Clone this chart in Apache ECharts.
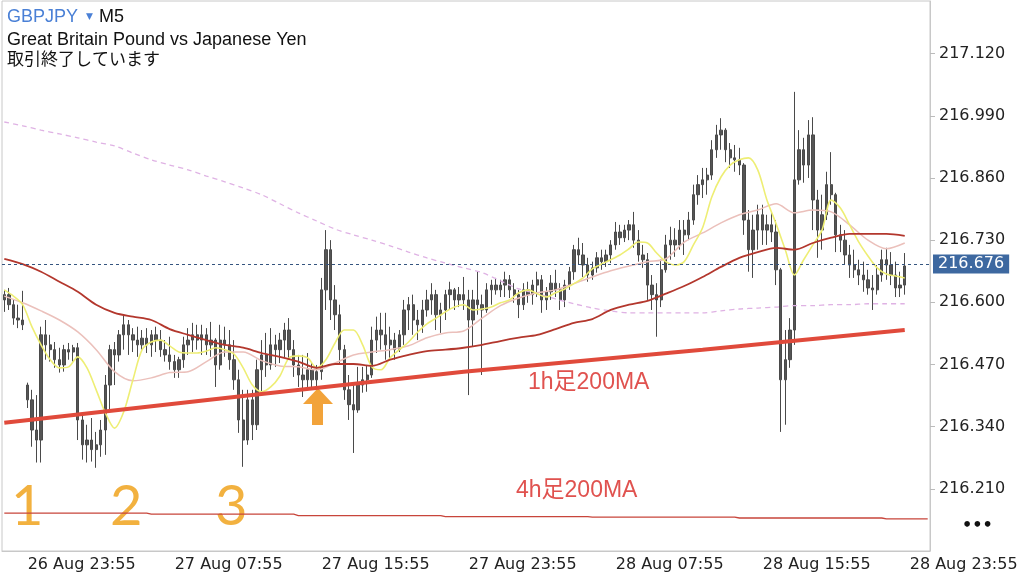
<!DOCTYPE html>
<html><head><meta charset="utf-8">
<script src="https://cdn.jsdelivr.net/npm/echarts@6/dist/echarts.min.js"></script>
<style>html,body{margin:0;padding:0;background:#fff}#c{width:1024px;height:576px}</style>
</head><body><div id="c"></div>
<script>
// 15-minute slots starting 26 Aug 22:55
const tickLabels = ['26 Aug 23:55','27 Aug 07:55','27 Aug 15:55','27 Aug 23:55','28 Aug 07:55','28 Aug 15:55','28 Aug 23:55'];
const priceTicks = [216.210,216.340,216.470,216.600,216.730,216.860,216.990,217.120];
const lastPrice = 216.676;

const opens = [216.605,216.616,216.595,216.567,216.563,216.427,216.396,216.333,216.312,216.532,
216.511,216.501,216.480,216.469,216.501,216.496,216.505,216.354,216.302,216.312,
216.292,216.302,216.333,216.427,216.501,216.490,216.532,216.553,216.532,216.521,
216.511,216.525,216.511,216.532,216.521,216.501,216.490,216.476,216.459,216.480,
216.511,216.521,216.532,216.521,216.532,216.511,216.521,216.469,216.521,216.511,
216.480,216.438,216.354,216.312,216.396,216.344,216.459,216.490,216.469,216.511,
216.501,216.521,216.542,216.501,216.469,216.448,216.438,216.459,216.438,216.455,
216.626,216.710,216.605,216.574,216.501,216.417,216.386,216.375,216.427,216.438,
216.448,216.521,216.542,216.532,216.511,216.521,216.501,216.532,216.584,216.595,
216.563,216.553,216.584,216.605,216.616,216.574,216.584,216.616,216.626,216.605,
216.616,216.605,216.563,216.605,216.595,216.584,216.626,216.636,216.626,216.636,
216.647,216.626,216.616,216.595,216.626,216.616,216.636,216.647,216.605,216.622,
216.640,216.626,216.605,216.636,216.664,216.710,216.699,216.678,216.657,216.672,
216.693,216.685,216.699,216.720,216.747,216.735,216.751,216.762,216.730,216.699,
216.689,216.636,216.616,216.605,216.668,216.720,216.730,216.720,216.751,216.741,
216.772,216.825,216.846,216.856,216.866,216.919,216.950,216.960,216.919,216.902,
216.898,216.887,216.772,216.710,216.751,216.783,216.751,216.762,216.747,216.668,
216.438,216.480,216.542,216.856,216.919,216.887,216.950,216.814,216.751,216.783,
216.846,216.825,216.741,216.730,216.699,216.678,216.668,216.657,216.647,216.630,
216.626,216.657,216.689,216.678,216.657,216.630,216.636];

const highs = [216.626,216.630,216.605,216.595,216.624,216.432,216.417,216.406,216.549,216.563,
216.532,216.517,216.505,216.511,216.515,216.511,216.515,216.365,216.344,216.358,
216.329,216.354,216.448,216.511,216.517,216.542,216.574,216.563,216.546,216.549,
216.542,216.546,216.542,216.549,216.542,216.521,216.528,216.490,216.486,216.528,
216.546,216.557,216.553,216.553,216.546,216.559,216.525,216.553,216.549,216.542,
216.521,216.459,216.417,216.417,216.417,216.480,216.521,216.536,216.546,216.532,
216.536,216.557,216.567,216.521,216.490,216.490,216.494,216.473,216.469,216.651,
216.751,216.730,216.636,216.595,216.511,216.448,216.427,216.465,216.465,216.469,
216.549,216.570,216.578,216.578,216.549,216.536,216.542,216.605,216.611,216.616,
216.584,216.605,216.626,216.640,216.626,216.599,216.626,216.643,216.630,216.632,
216.653,216.626,216.626,216.664,216.616,216.640,216.647,216.651,216.647,216.664,
216.657,216.640,216.626,216.640,216.643,216.647,216.664,216.657,216.632,216.657,
216.668,216.640,216.647,216.674,216.720,216.735,216.724,216.693,216.685,216.705,
216.710,216.710,216.730,216.768,216.762,216.762,216.772,216.789,216.751,216.720,
216.703,216.657,216.640,216.689,216.741,216.758,216.755,216.772,216.772,216.789,
216.846,216.866,216.881,216.881,216.939,216.971,216.985,216.964,216.933,216.929,
216.923,216.891,216.793,216.783,216.804,216.804,216.783,216.789,216.772,216.672,
216.542,216.567,217.040,216.960,216.944,216.981,216.987,216.835,216.825,216.873,
216.914,216.829,216.762,216.751,216.720,216.710,216.689,216.685,216.668,216.657,
216.678,216.710,216.714,216.705,216.685,216.664,216.703];

const lows = [216.580,216.584,216.553,216.546,216.542,216.379,216.298,216.265,216.265,216.480,
216.476,216.463,216.453,216.455,216.480,216.476,216.312,216.271,216.265,216.267,
216.254,216.277,216.281,216.375,216.427,216.476,216.501,216.490,216.496,216.486,
216.501,216.494,216.486,216.496,216.486,216.476,216.459,216.442,216.442,216.463,
216.490,216.496,216.501,216.490,216.490,216.486,216.423,216.459,216.486,216.459,
216.417,216.327,216.256,216.302,216.312,216.333,216.411,216.444,216.459,216.465,
216.473,216.484,216.480,216.444,216.423,216.402,216.423,216.417,216.423,216.438,
216.584,216.563,216.542,216.469,216.396,216.354,216.285,216.369,216.411,216.413,
216.442,216.494,216.501,216.480,216.480,216.480,216.496,216.511,216.542,216.532,
216.521,216.536,216.570,216.574,216.542,216.536,216.563,216.584,216.584,216.590,
216.584,216.406,216.507,216.574,216.448,216.578,216.595,216.616,216.611,216.611,
216.609,216.599,216.567,216.584,216.599,216.595,216.611,216.578,216.584,216.605,
216.611,216.584,216.590,216.626,216.647,216.678,216.653,216.643,216.647,216.662,
216.668,216.674,216.682,216.710,216.720,216.726,216.730,216.714,216.685,216.672,
216.605,216.584,216.528,216.590,216.662,216.689,216.695,216.710,216.699,216.730,
216.762,216.804,216.818,216.825,216.856,216.902,216.919,216.893,216.881,216.873,
216.866,216.741,216.664,216.651,216.710,216.720,216.720,216.726,216.636,216.329,
216.344,216.463,216.511,216.846,216.850,216.860,216.751,216.693,216.710,216.772,
216.804,216.705,216.705,216.678,216.651,216.651,216.636,216.622,216.616,216.584,
216.616,216.643,216.647,216.636,216.611,216.611,216.616];

const closes = [216.616,216.595,216.567,216.563,216.553,216.396,216.333,216.312,216.532,216.511,
216.501,216.480,216.469,216.501,216.496,216.505,216.354,216.302,216.312,216.292,
216.302,216.333,216.427,216.501,216.490,216.532,216.553,216.532,216.521,216.511,
216.525,216.511,216.532,216.521,216.501,216.490,216.476,216.459,216.480,216.511,
216.521,216.532,216.521,216.532,216.511,216.521,216.469,216.521,216.511,216.480,
216.438,216.354,216.312,216.396,216.344,216.459,216.490,216.469,216.511,216.501,
216.521,216.542,216.501,216.469,216.448,216.438,216.459,216.438,216.455,216.626,
216.710,216.605,216.574,216.501,216.417,216.386,216.375,216.427,216.438,216.448,
216.521,216.542,216.532,216.511,216.521,216.501,216.532,216.584,216.595,216.563,
216.553,216.584,216.605,216.616,216.574,216.584,216.616,216.626,216.605,216.616,
216.605,216.563,216.605,216.595,216.584,216.626,216.636,216.626,216.636,216.647,
216.626,216.616,216.595,216.626,216.616,216.636,216.647,216.605,216.622,216.640,
216.626,216.605,216.636,216.664,216.710,216.699,216.678,216.657,216.672,216.693,
216.685,216.699,216.720,216.747,216.735,216.751,216.762,216.730,216.699,216.689,
216.636,216.616,216.605,216.668,216.720,216.730,216.720,216.751,216.741,216.772,
216.825,216.846,216.856,216.866,216.919,216.950,216.960,216.919,216.902,216.898,
216.887,216.772,216.710,216.751,216.783,216.751,216.762,216.747,216.668,216.438,
216.480,216.542,216.856,216.919,216.887,216.950,216.814,216.751,216.783,216.846,
216.825,216.741,216.730,216.699,216.678,216.668,216.657,216.647,216.630,216.626,
216.657,216.689,216.678,216.657,216.630,216.636,216.676];

// yellow short MA, every 2 slots (30 min)
const maYellow = [216.626,216.613,216.595,216.549,216.511,216.480,216.463,216.465,216.486,216.463,
216.417,216.369,216.337,216.371,216.438,216.501,216.517,216.521,216.509,216.496,
216.494,216.494,216.498,216.505,216.501,216.492,216.463,216.427,216.413,216.423,
216.446,216.484,216.488,216.484,216.463,216.480,216.515,216.542,216.542,216.511,
216.465,216.459,216.484,216.501,216.517,216.538,216.555,216.567,216.580,216.590,
216.595,216.584,216.586,216.590,216.599,216.605,216.620,216.626,216.618,216.611,
216.620,216.628,216.639,216.651,216.670,216.680,216.689,216.699,216.712,216.726,
216.724,216.703,216.685,216.678,216.685,216.720,216.756,216.820,216.862,216.887,
216.898,216.902,216.877,216.814,216.764,216.710,216.657,216.689,216.720,216.751,
216.814,216.797,216.762,216.726,216.697,216.672,216.659,216.655,216.651];

// hourly samples (every 4 slots)
const maPink = [216.613,216.599,216.582,216.563,216.538,216.501,216.455,216.436,216.442,216.453,
216.455,216.476,216.496,216.496,216.478,216.467,216.465,216.459,216.473,216.490,
216.496,216.501,216.509,216.526,216.536,216.540,216.567,216.593,216.609,216.620,
216.626,216.639,216.653,216.666,216.676,216.685,216.691,216.726,216.745,216.766,
216.783,216.793,216.806,216.787,216.793,216.789,216.762,216.730,216.712,216.724];

const maDark = [216.691,216.680,216.664,216.643,216.622,216.595,216.578,216.570,216.563,216.544,
216.532,216.521,216.511,216.505,216.494,216.486,216.476,216.463,216.471,216.471,
216.467,216.480,216.490,216.498,216.501,216.505,216.511,216.519,216.526,216.532,
216.544,216.557,216.565,216.584,216.595,216.603,216.618,216.634,216.653,216.674,
216.693,216.705,216.714,216.710,216.724,216.735,216.743,216.743,216.743,216.739];

const maDashed = [216.977,216.969,216.960,216.952,216.944,216.935,216.927,216.912,216.898,216.887,
216.877,216.864,216.852,216.839,216.825,216.806,216.787,216.770,216.753,216.741,
216.730,216.718,216.705,216.693,216.682,216.672,216.662,216.645,216.628,216.618,
216.607,216.597,216.588,216.582,216.578,216.578,216.578,216.578,216.578,216.582,
216.586,216.588,216.590,216.593,216.593,216.595,216.595,216.597,216.597,216.597];

// 1h 200MA read at a few slots
const ma1hSlots = [0,52,100,152,196];
const ma1hVals = [216.348,216.404,216.455,216.501,216.542];
// 4h 200MA, one value per 8-hour block (32 slots)
const ma4hBlocks = [216.159,216.157,216.154,216.152,216.151,216.149,216.147];

const N = 202;
const categories = [];
for (let i = 0; i < N; i++) {
  const m = 22 * 60 + 55 + 15 * i;
  const day = 26 + Math.floor(m / 1440);
  const mm = m % 1440;
  categories.push(day + ' Aug ' + String(Math.floor(mm / 60)).padStart(2, '0') + ':' + String(mm % 60).padStart(2, '0'));
}
const candles = categories.map((c, i) => i < opens.length ? [opens[i], closes[i], lows[i], highs[i]] : '-');
function spread(vals, step) {
  const a = new Array(N).fill(null);
  vals.forEach((v, k) => { a[k * step] = v; });
  return a;
}
const ma1h = new Array(N).fill(null);
ma1hSlots.forEach((s, k) => { ma1h[s] = ma1hVals[k]; });
const ma4h = categories.map((c, i) => ma4hBlocks[Math.min(Math.floor(i / 32), ma4hBlocks.length - 1)]);

const isTick = (idx, val) => tickLabels.indexOf(val) >= 0;
const lineBase = { type: 'line', showSymbol: false, connectNulls: true, smooth: 0.3, silent: true };

const chart = echarts.init(document.getElementById('c'), null, { renderer: 'canvas' });
chart.setOption({
  animation: false,
  backgroundColor: '#fff',
  grid: { left: 2, right: 94, top: 1, bottom: 25, show: true, borderColor: '#c8c8c8', borderWidth: 1 },
  xAxis: {
    type: 'category', data: categories, boundaryGap: true,
    axisLine: { lineStyle: { color: '#c8c8c8' } },
    axisTick: { interval: isTick, alignWithLabel: true, length: 5, lineStyle: { color: '#bbb' } },
    axisLabel: { interval: isTick, align: 'left', padding: [0, 0, 0, 5], margin: 6, color: '#222', fontSize: 16, fontFamily: 'DejaVu Sans' },
    splitLine: { show: false }
  },
  yAxis: {
    type: 'value', position: 'right', min: 216.08, max: 217.23, scale: true,
    axisLine: { show: true, lineStyle: { color: '#c8c8c8' } },
    axisTick: { show: true, customValues: priceTicks, length: 5, lineStyle: { color: '#bbb' } },
    axisLabel: { customValues: priceTicks, formatter: v => v.toFixed(3), color: '#222', fontSize: 16, fontFamily: 'DejaVu Sans', margin: 9 },
    splitLine: { show: false }
  },
  series: [
    {
      type: 'candlestick', data: candles, barWidth: 2.8,
      itemStyle: { color: '#555', color0: '#555', borderColor: '#4a4a4a', borderColor0: '#4a4a4a', borderWidth: 1 },
      markLine: {
        silent: true, symbol: ['none', 'none'],
        lineStyle: { type: [3, 3], color: '#35557f', width: 1.2 },
        label: { position: 'end', formatter: () => lastPrice.toFixed(3), backgroundColor: '#3d68a0', color: '#fff', fontSize: 16, fontFamily: 'DejaVu Sans', padding: [2, 5, 1, 5], distance: 3 },
        data: [{ yAxis: lastPrice }]
      }
    },
    Object.assign({}, lineBase, { name: 'dashed', data: spread(maDashed, 4), lineStyle: { color: '#dfb2e4', width: 1.3, type: [5, 4] } }),
    Object.assign({}, lineBase, { name: 'pink', data: spread(maPink, 4), lineStyle: { color: '#ebc0bb', width: 1.5 } }),
    Object.assign({}, lineBase, { name: 'yellow', data: spread(maYellow, 2), lineStyle: { color: '#eeee74', width: 1.6 } }),
    Object.assign({}, lineBase, { name: 'dark', data: spread(maDark, 4), lineStyle: { color: '#b3372d', width: 1.8 } }),
    Object.assign({}, lineBase, { name: '1h', data: ma1h, smooth: false, lineStyle: { color: '#e04a3b', width: 4 } }),
    Object.assign({}, lineBase, { name: '4h', data: ma4h, smooth: false, lineStyle: { color: '#c8453b', width: 1.3 } })
  ],
  graphic: [
    { type: 'text', left: 7, top: 8, style: { text: 'GBPJPY', fill: '#4a80d6', font: '18px "Liberation Sans"' } },
    { type: 'text', left: 86, top: 12, style: { text: '▼', fill: '#4a80d6', font: '9px "DejaVu Sans"' } },
    { type: 'text', left: 99, top: 8, style: { text: 'M5', fill: '#111', font: '18px "Liberation Sans"' } },
    { type: 'text', left: 7, top: 31, style: { text: 'Great Britain Pound vs Japanese Yen', fill: '#111', font: '18px "Liberation Sans"' } },
    { type: 'text', left: 7, top: 50, style: { text: '取引終了しています', fill: '#111', font: '17px "Noto Sans CJK JP"' } },
    { type: 'text', left: 11, top: 479, style: { text: '1', fill: '#f2b13f', font: '56px "Lato"' } },
    { type: 'text', left: 110, top: 479, style: { text: '2', fill: '#f2b13f', font: '56px "Lato"' } },
    { type: 'text', left: 215, top: 479, style: { text: '3', fill: '#f2b13f', font: '56px "Lato"' } },
    { type: 'polygon', shape: { points: [[303, 404], [318, 388], [333, 404], [323, 404], [323, 425], [312, 425], [312, 404]] }, style: { fill: '#f2a33a' } },
    { type: 'text', left: 528, top: 371, style: { text: '1h足200MA', fill: '#e0524f', font: '23px "Liberation Sans", "Noto Sans CJK JP"' } },
    { type: 'text', left: 516, top: 479, style: { text: '4h足200MA', fill: '#e0524f', font: '23px "Liberation Sans", "Noto Sans CJK JP"' } },
    { type: 'text', left: 962, top: 518, style: { text: '•••', fill: '#111', font: 'bold 16px "DejaVu Sans"' } }
  ]
});
</script>
</body></html>
